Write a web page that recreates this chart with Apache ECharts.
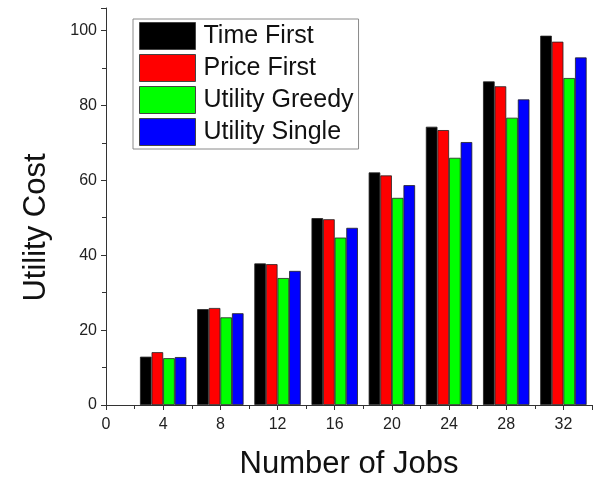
<!DOCTYPE html>
<html>
<head>
<meta charset="utf-8">
<style>
  html, body { margin: 0; padding: 0; background: #fff; }
  #chart { width: 599px; height: 477px; }
</style>
<script src="https://cdn.jsdelivr.net/npm/echarts@6/dist/echarts.min.js"></script>
</head>
<body>
<div id="chart"></div>
<script>
// Number of jobs on the x axis
const jobs = [4, 8, 12, 16, 20, 24, 28, 32];

// Utility cost per scheduling strategy
const timeFirst     = [12.9, 25.6, 37.8, 49.9, 62.1, 74.3, 86.4, 98.6];
const priceFirst    = [14.1, 25.9, 37.6, 49.6, 61.3, 73.4, 85.1, 97.0];
const utilityGreedy = [12.5, 23.4, 33.9, 44.7, 55.3, 66.0, 76.7, 87.3];
const utilitySingle = [12.8, 24.5, 35.8, 47.3, 58.7, 70.2, 81.6, 92.8];

const seriesNames  = ['Time First', 'Price First', 'Utility Greedy', 'Utility Single'];
const seriesValues = [timeFirst, priceFirst, utilityGreedy, utilitySingle];
const seriesColors = ['#000000', '#ff0000', '#00ff00', '#0000ff'];

const font = 'Liberation Sans, Arial, sans-serif';
const axisColor = '#333333';

const chart = echarts.init(document.getElementById('chart'), null, { renderer: 'canvas' });

chart.setOption({
  animation: false,
  backgroundColor: '#ffffff',
  grid: {
    left: 106, right: 7, top: 8, bottom: 72,
    containLabel: false,
    outerBoundsMode: 'none'
  },
  legend: {
    orient: 'vertical',
    left: 133,
    top: 19,
    padding: [3, 5, 3, 6],
    itemWidth: 56,
    itemHeight: 27,
    itemGap: 4,
    borderColor: '#8a8a8a',
    borderWidth: 1,
    icon: 'rect',
    data: seriesNames,
    itemStyle: { borderColor: '#444', borderWidth: 1 },
    textStyle: { fontFamily: font, fontSize: 25, color: '#111', padding: [0, 0, 0, 3] }
  },
  xAxis: {
    type: 'value',
    min: 0,
    max: 34,
    interval: 4,
    name: 'Number of Jobs',
    nameLocation: 'middle',
    nameGap: 44,
    nameTextStyle: { fontFamily: font, fontSize: 31, color: '#111' },
    axisLine: { show: true, onZero: false, lineStyle: { color: axisColor, width: 1 } },
    axisTick: { show: true, inside: false, length: 5, lineStyle: { color: axisColor } },
    minorTick: { show: true, splitNumber: 2, length: 4, lineStyle: { color: axisColor } },
    splitLine: { show: false },
    axisLabel: {
      fontFamily: font, fontSize: 16, color: '#222', margin: 12,
      showMaxLabel: false,
      formatter: v => (v % 4 === 0 && v <= 32 ? String(v) : '')
    }
  },
  yAxis: {
    type: 'value',
    min: 0,
    max: 106,
    interval: 20,
    name: 'Utility Cost',
    nameLocation: 'middle',
    nameGap: 54,
    nameRotate: 90,
    nameTextStyle: { fontFamily: font, fontSize: 31, color: '#111', padding: [0, 42, 0, 0] },
    axisLine: { show: true, lineStyle: { color: axisColor, width: 1 } },
    axisTick: { show: true, inside: false, length: 5, lineStyle: { color: axisColor } },
    minorTick: { show: true, splitNumber: 2, length: 4, lineStyle: { color: axisColor } },
    splitLine: { show: false },
    axisLabel: {
      fontFamily: font, fontSize: 16, color: '#222', margin: 9,
      showMaxLabel: false,
      formatter: v => (v % 20 === 0 && v <= 100 ? String(v) : '')
    }
  },
  series: seriesNames.map((name, i) => ({
    name: name,
    type: 'bar',
    barWidth: 11.6,
    barGap: '0%',
    itemStyle: { color: seriesColors[i], borderColor: '#222', borderWidth: 0.8 },
    data: jobs.map((x, k) => [x, seriesValues[i][k]])
  }))
});
</script>
</body>
</html>
